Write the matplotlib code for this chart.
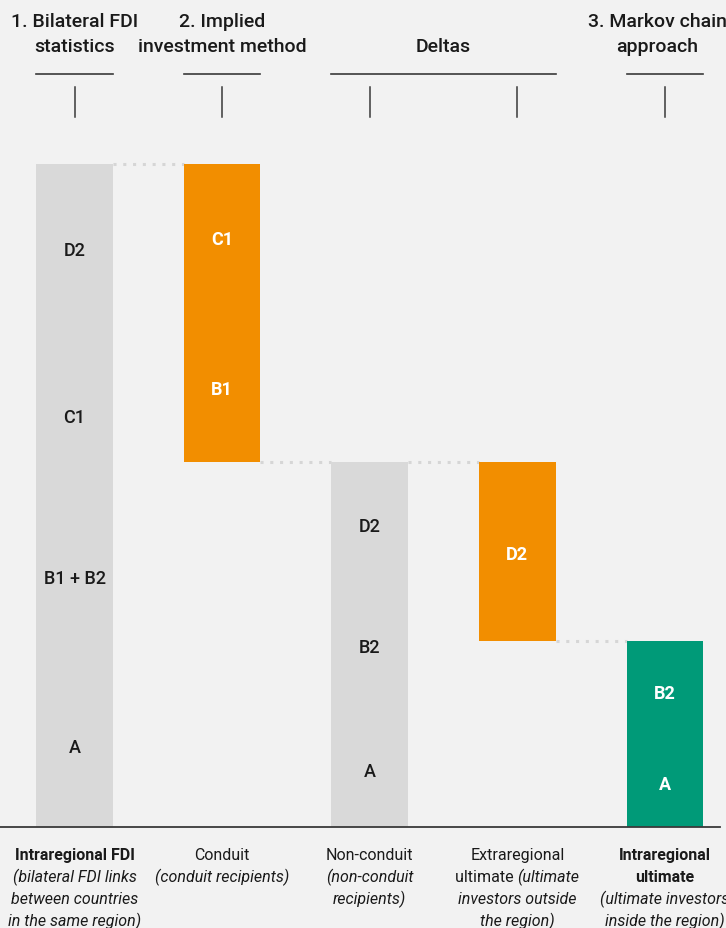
import matplotlib
matplotlib.use("Agg")
import matplotlib.pyplot as plt

# --- data ---------------------------------------------------------------
categories = ["Intraregional FDI", "Conduit", "Non-conduit",
              "Extraregional ultimate", "Intraregional ultimate"]
bar_bottoms = [0, 55, 0, 28, 0]
bar_heights = [100, 45, 55, 27, 28]
bar_kinds = ["gray", "orange", "gray", "orange", "green"]

# labels inside the bars: (bar index, text, level)
seg_labels = [
    (0, "D2", 87.0), (0, "C1", 61.8), (0, "B1 + B2", 37.6), (0, "A", 12.1),
    (1, "C1", 88.7), (1, "B1", 66.1),
    (2, "D2", 45.4), (2, "B2", 27.1), (2, "A", 8.4),
    (3, "D2", 41.2),
    (4, "B2", 20.2), (4, "A", 6.5),
]

header_texts = ["1. Bilateral FDI\nstatistics", "2. Implied\ninvestment method",
                "Deltas", "3. Markov chain\napproach"]
header_groups = [[0], [1], [2, 3], [4]]

# bottom labels: lines made of (text, weight, style) pieces
bottom_labels = [
    [[("Intraregional FDI", "bold", "normal")],
     [("(bilateral FDI links", "normal", "italic")],
     [("between countries", "normal", "italic")],
     [("in the same region)", "normal", "italic")]],
    [[("Conduit", "normal", "normal")],
     [("(conduit recipients)", "normal", "italic")]],
    [[("Non-conduit", "normal", "normal")],
     [("(non-conduit", "normal", "italic")],
     [("recipients)", "normal", "italic")]],
    [[("Extraregional", "normal", "normal")],
     [("ultimate ", "normal", "normal"), ("(ultimate", "normal", "italic")],
     [("investors outside", "normal", "italic")],
     [("the region)", "normal", "italic")]],
    [[("Intraregional", "bold", "normal")],
     [("ultimate", "bold", "normal")],
     [("(ultimate investors", "normal", "italic")],
     [("inside the region)", "normal", "italic")]],
]

colors = {"gray": "#d9d9d9", "orange": "#f28e00", "green": "#009a78"}
text_colors = {"gray": "#1a1a1a", "orange": "white", "green": "white"}
bg = "#f2f2f2"
ink = "#1a1a1a"

plt.rcParams["font.family"] = ["Roboto", "DejaVu Sans"]

fig = plt.figure(figsize=(7.26, 9.29), dpi=100, facecolor=bg)
ax = fig.add_axes([0, 0, 1, 1])
ax.set_facecolor(bg)
ax.set_xlim(-0.505, 4.414)
ax.set_ylim(-15.23, 124.9)
ax.axis("off")

x = list(range(len(categories)))
width = 0.52

ax.bar(x, bar_heights, bottom=bar_bottoms, width=width,
       color=[colors[k] for k in bar_kinds], zorder=2)

# dotted connectors between consecutive bars
tops = [b + h for b, h in zip(bar_bottoms, bar_heights)]
for i in range(len(x) - 1):
    if i == 0:
        level = tops[0]
    elif bar_kinds[i] == "orange":
        level = bar_bottoms[i]
    else:
        level = tops[i]
    ax.plot([x[i] + width / 2, x[i + 1] - width / 2], [level, level],
            ls=(0, (1, 2.2)), lw=2.2, color="#d6d6d6", zorder=1)

# baseline
ax.axhline(0, xmin=0, xmax=720 / 726, color="#3a3a3a", lw=1.3, zorder=3)

# labels in bars
for i, txt, lvl in seg_labels:
    k = bar_kinds[i]
    ax.text(x[i], lvl, txt, ha="center", va="center", fontsize=13,
            color=text_colors[k], fontweight="bold" if k != "gray" else 500,
            zorder=4)

# headers, rules and ticks
for txt, grp in zip(header_texts, header_groups):
    xc = (x[grp[0]] + x[grp[-1]]) / 2
    if grp == [4]:
        xc -= 0.05
    ax.text(xc, 117.0, txt, ha="center", va="baseline", fontsize=14,
            color=ink, fontweight=500, linespacing=1.55)
    ax.plot([x[grp[0]] - width / 2, x[grp[-1]] + width / 2], [113.6, 113.6],
            color="#3a3a3a", lw=1.2)
    for g in grp:
        ax.plot([x[g], x[g]], [107.1, 111.6], color="#3a3a3a", lw=1.1)

# bottom labels with mixed styles
fig.canvas.draw()
renderer = fig.canvas.get_renderer()
inv = ax.transData.inverted()
y0, gap = -4.07, 3.33
for xc, lines in zip(x, bottom_labels):
    for j, line in enumerate(lines):
        y = y0 - j * gap
        texts = [ax.text(0, y, s, fontweight=w, fontstyle=st, ha="left",
                         va="center", fontsize=11.5, color=ink)
                 for s, w, st in line]
        widths = [t.get_window_extent(renderer).width for t in texts]
        start = ax.transData.transform((xc, y))[0] - sum(widths) / 2
        for t, w in zip(texts, widths):
            t.set_x(inv.transform((start, 0))[0])
            start += w

fig.savefig("out.png", dpi=100, facecolor=bg)
